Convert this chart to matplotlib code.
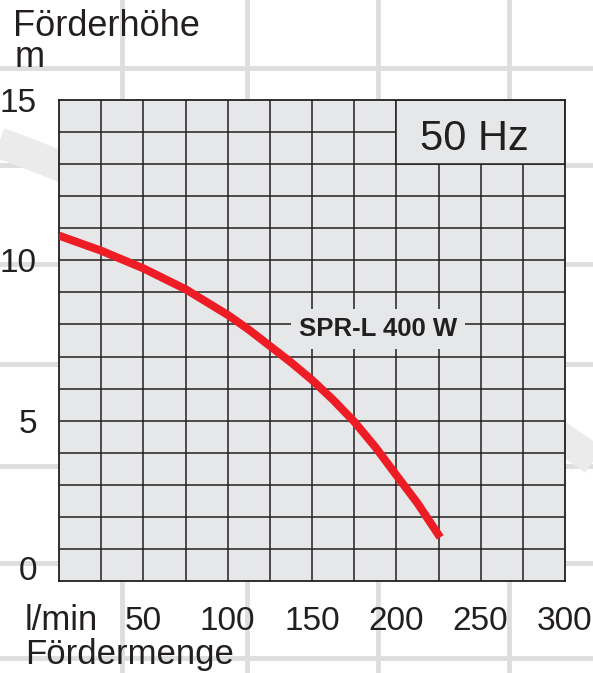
import matplotlib.pyplot as plt
from matplotlib.lines import Line2D
from matplotlib.patches import Rectangle
import numpy as np

# pump curve
flow = [0, 25, 50, 75, 100, 112.5, 125, 137.5, 150, 162.5, 175, 187.5,
        200, 212.5, 226]
head = [10.77, 10.3, 9.75, 9.1, 8.3, 7.84, 7.33, 6.82, 6.27, 5.65, 4.97,
        4.18, 3.3, 2.43, 1.36]

x_ticks = [50, 100, 150, 200, 250, 300]
y_ticks = [0, 5, 10, 15]
curve_label = 'SPR-L 400 W'
freq_label = '50 Hz'

plt.rcParams['font.family'] = ['Liberation Sans', 'DejaVu Sans']
txt = '#231f20'
bg = '#e6e7e8'
W, H = 593, 673

fig = plt.figure(figsize=(W / 100, H / 100), dpi=100)
fig.patch.set_facecolor('white')

# faint background grid and watermark band (figure pixels)
def fig_line(xs, ys, **kw):
    fig.add_artist(Line2D(np.array(xs) / W, 1 - np.array(ys) / H,
                          transform=fig.transFigure, zorder=0, **kw))

for gx in [122, 247, 378, 509]:
    fig_line([gx, gx], [0, H], color='#dddedf', lw=3.5)
for gy in [68, 165, 264, 364, 466, 563, 658]:
    fig_line([0, W], [gy, gy], color='#dddedf', lw=3.5)
bx = np.linspace(-10, 600, 60)
fig_line(bx, 143 + 0.37 * bx + 0.000276 * bx ** 2, color='#ebebec', lw=22,
         solid_capstyle='butt')

ax = fig.add_axes([59 / W, (H - 581) / H, 506 / W, 481 / H])
ax.set_facecolor(bg)
ax.set_xlim(0, 300)
ax.set_ylim(0, 15)
ax.set_xticks([])
ax.set_yticks([])
for s in ax.spines.values():
    s.set_linewidth(1.3)
    s.set_color(txt)

# grid
ax.vlines(np.arange(25, 300, 25), 0, 15, color=txt, lw=1.1, zorder=1)
ax.hlines(np.arange(1, 15, 1), 0, 300, color=txt, lw=1.1, zorder=1)

# 50 Hz box
ax.add_patch(Rectangle((200, 13), 100, 2, facecolor=bg, edgecolor=txt,
                       lw=1.1, zorder=2))
ax.text(246, 13.44, freq_label, fontsize=30, color=txt, ha='center',
        va='baseline', zorder=3)

ax.plot(flow, head, color='#ee1c25', lw=5.8, solid_capstyle='butt',
        solid_joinstyle='round', zorder=3)

ax.text(189, 7.64, curve_label, fontsize=18.5, fontweight='bold', color=txt,
        ha='center', va='baseline', zorder=4,
        bbox=dict(boxstyle='square,pad=0.3', fc=bg, ec='none'))

# tick labels
for v in y_ticks:
    yb = 0.03 if v == 0 else v - 0.37
    ax.text(-0.0435, yb, str(v), transform=ax.get_yaxis_transform(),
            ha='right', va='baseline', fontsize=24, color=txt, clip_on=False)
for v in x_ticks:
    ax.text(v, -0.102, str(v), transform=ax.get_xaxis_transform(),
            ha='center', va='baseline', fontsize=24, color=txt, clip_on=False)

ax.text(-0.067, -0.102, 'l/min', transform=ax.transAxes, ha='left',
        va='baseline', fontsize=25, color=txt)
ax.text(-0.067, -0.173, 'Fördermenge', transform=ax.transAxes, ha='left',
        va='baseline', fontsize=25, color=txt)
ax.text(-0.091, 1.133, 'Förderhöhe', transform=ax.transAxes, ha='left',
        va='baseline', fontsize=26, color=txt)
ax.text(-0.087, 1.069, 'm', transform=ax.transAxes, ha='left',
        va='baseline', fontsize=26, color=txt)

fig.savefig('out.png', dpi=100)
